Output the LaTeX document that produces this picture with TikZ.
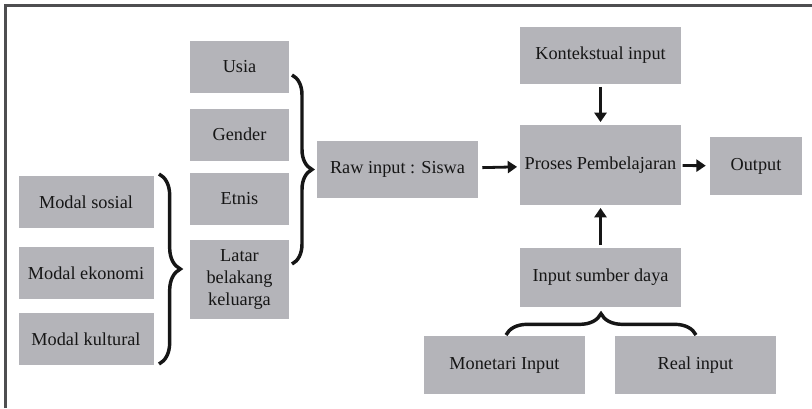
\documentclass[tikz,border=0pt]{standalone}
\usepackage{fontspec}
\setmainfont{Liberation Serif}
\usetikzlibrary{arrows.meta,decorations.pathreplacing}

\definecolor{boxgray}{RGB}{180,180,185}
\definecolor{framegray}{RGB}{78,78,80}
\definecolor{inkblack}{RGB}{22,22,22}

\tikzset{
  box/.style 2 args={fill=boxgray, text=inkblack, align=center, inner sep=0pt,
    minimum width=#1*0.75pt, minimum height=#2*0.75pt,
    font=\fontsize{13.7}{16.5}\selectfont},
  arr/.style={inkblack, line width=2.1pt, -{Triangle[length=7pt,width=9pt]}},
  brc/.style={inkblack, line width=2.6pt, decorate,
    decoration={brace, amplitude=#1}},
}

\begin{document}
\begin{tikzpicture}[x=0.75pt,y=-0.75pt]
\useasboundingbox (0,0) rectangle (812,408);

% frame
\draw[framegray, line width=2.5pt]
  (5.7,408) -- (5.7,5.7) -- (812,5.7);

% raw input side
\node[box={99}{52}] (usia)   at (239.5,66.5) {Usia};
\node[box={99}{52}] (gender) at (239.5,134.5) {Gender};
\node[box={99}{52}] (etnis)  at (239.5,199) {Etnis};
\node[box={99}{79}] (latar)  at (239.5,279) {Latar\\belakang\\keluarga};

\node[box={135}{52}] (msosial)   at (86,202) {Modal sosial};
\node[box={135}{52}] (mekonomi)  at (86,273) {Modal ekonomi};
\node[box={135}{52}] (mkultural) at (86,339) {Modal kultural};

\node[box={161}{57}] (raw) at (397.5,169.5) {Raw input : Siswa};

% process chain
\node[box={161}{57}] (kontek)  at (600.5,55.5) {Kontekstual input};
\node[box={161}{80}] (proses)  at (600.5,165) {Proses Pembelajaran};
\node[box={92}{58}]  (output)  at (756,166) {Output};
\node[box={161}{59}] (sumber)  at (600.5,277.5) {Input sumber daya};
\node[box={161}{58}] (monetari) at (504.5,365) {Monetari Input};
\node[box={161}{58}] (real)     at (695.5,365) {Real input};

% braces
\coordinate (b1top) at (292,75);
\coordinate (b1bot) at (292,264);
\draw[brc=15pt] (b1top) -- (b1bot);

\coordinate (b2top) at (159,174);
\coordinate (b2bot) at (159,364);
\draw[brc=16pt] (b2top) -- (b2bot);

\coordinate (b3lft) at (506,335);
\coordinate (b3rgt) at (696,335);
\draw[brc=16pt] (b3lft) -- (b3rgt);

% arrows
\draw[arr, shorten <=3pt, shorten >=2pt] (raw) -- (proses);
\draw[arr, shorten <=2pt, shorten >=2pt] (kontek) -- (proses);
\draw[arr, shorten <=2pt, shorten >=2pt] (sumber) -- (proses);
\draw[arr, shorten <=1pt, shorten >=3pt] (proses) -- (output);
\end{tikzpicture}
\end{document}
